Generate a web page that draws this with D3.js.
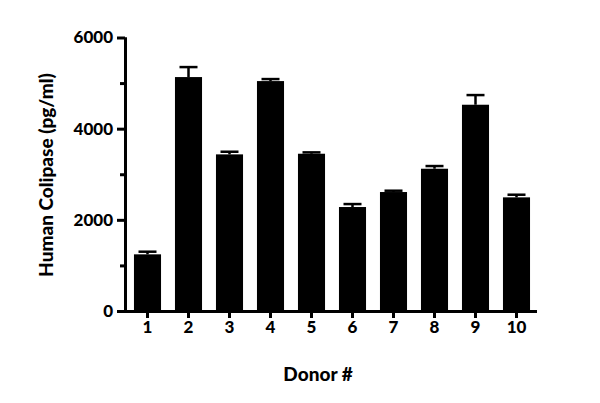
<!DOCTYPE html>
<html>
<head>
<meta charset="utf-8">
<script src="https://cdn.jsdelivr.net/npm/d3@7"></script>
<style>
body { margin: 0; background: #fff; }
text { font-family: "Lato", "Open Sans", sans-serif; font-weight: 900; fill: #000; }
</style>
</head>
<body>
<svg id="chart" width="600" height="403"></svg>
<script>
// 捐贈者編號與平均值、誤差
const donors = ['1', '2', '3', '4', '5', '6', '7', '8', '9', '10'];
const means  = [1243, 5132, 3436, 5044, 3450, 2281, 2610, 3121, 4525, 2493];
const errs   = [58, 219, 58, 44, 30, 65, 29, 59, 212, 58];
const yTicks = [0, 2000, 4000, 6000];
const yMinor = [1000, 3000, 5000];

const svg = d3.select('#chart');
const mLeft = 125, mRight = 537, mTop = 37.5, mBottom = 311;

const x = d3.scaleBand().domain(donors).range([mLeft + 2, mRight]).paddingInner(0.34).paddingOuter(0.17);
const y = d3.scaleLinear().domain([0, 6000]).range([mBottom, mTop]);

// 長條
svg.selectAll('rect.bar').data(means).enter().append('rect')
   .attr('x', (d, i) => x(donors[i]))
   .attr('width', x.bandwidth())
   .attr('y', d => y(d))
   .attr('height', d => mBottom - y(d))
   .attr('fill', '#000');

// 誤差線 (只畫上半)
const eg = svg.append('g').attr('stroke', '#000').attr('stroke-width', 2.5);
donors.forEach((k, i) => {
  const cx = x(k) + x.bandwidth() / 2;
  eg.append('line').attr('x1', cx).attr('x2', cx).attr('y1', y(means[i])).attr('y2', y(means[i] + errs[i]));
  eg.append('line').attr('x1', cx - 9).attr('x2', cx + 9).attr('y1', y(means[i] + errs[i])).attr('y2', y(means[i] + errs[i]));
});

// y 軸
const gy = svg.append('g').attr('transform', `translate(${mLeft},0)`)
  .call(d3.axisLeft(y).tickValues(yTicks).tickSize(8).tickPadding(4).tickFormat(d3.format('d')));
gy.append('g').call(d3.axisLeft(y).tickValues(yMinor).tickSize(5).tickFormat(''));
// x 軸
const gx = svg.append('g').attr('transform', `translate(0,${mBottom})`)
  .call(d3.axisBottom(x).tickSize(7).tickPadding(3).tickSizeOuter(0));

svg.selectAll('.domain, .tick line').attr('stroke', '#000').attr('stroke-width', 3);
gx.select('.domain').attr('d', `M${mLeft - 4},0.5H${mRight}`);
gy.selectAll('.domain').attr('d', `M0.5,${mTop}V${mBottom}`);
svg.selectAll('.tick text').attr('font-size', 17).style('font-family', '"Lato", sans-serif').style('font-weight', 900);

svg.append('text').attr('x', 318).attr('y', 381).attr('text-anchor', 'middle')
   .attr('font-size', 19).text('Donor #');
svg.append('text').attr('transform', 'translate(53,175) rotate(-90)').attr('text-anchor', 'middle')
   .attr('font-size', 19).text('Human Colipase (pg/ml)');
</script>
</body>
</html>
